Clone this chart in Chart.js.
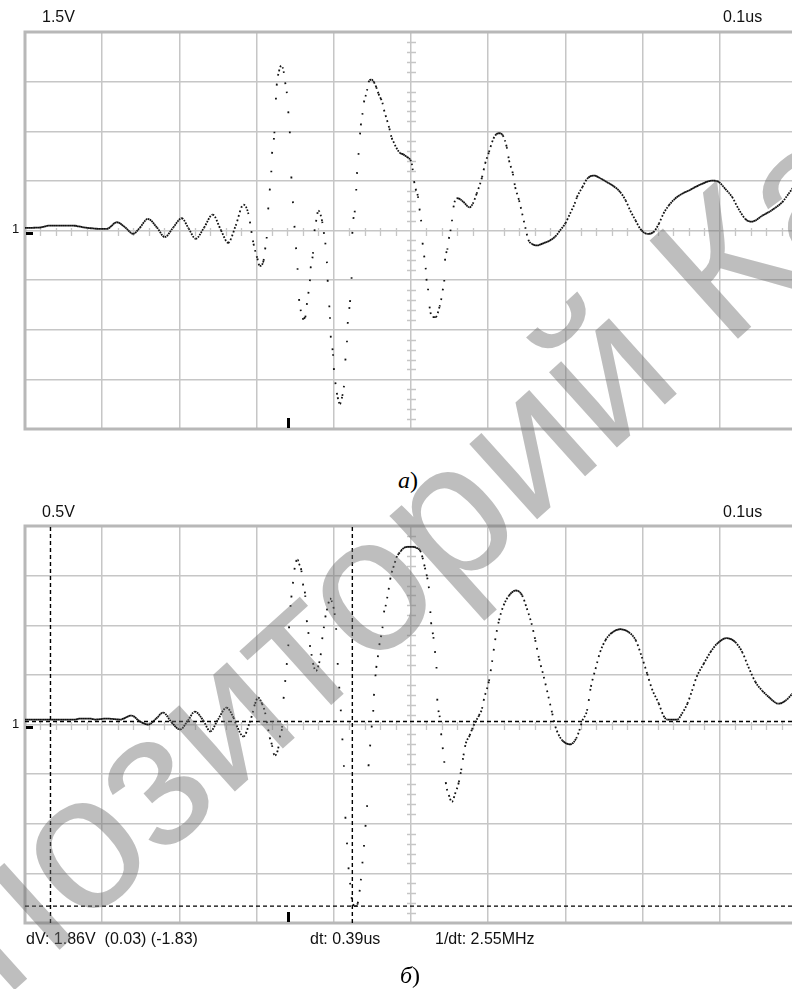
<!DOCTYPE html>
<html>
<head>
<meta charset="utf-8">
<script src="https://cdn.jsdelivr.net/npm/chart.js@4.4.0/dist/chart.umd.min.js"></script>
<style>
html, body { margin: 0; padding: 0; background: #fff; overflow: hidden; }
#wrap { position: relative; width: 792px; height: 989px; overflow: hidden; }
canvas { position: absolute; left: 0; }
.lbl { position: absolute; font-family: "Liberation Sans", Arial, sans-serif; font-size: 16px; line-height: 16px; color: #111; white-space: pre; }
.gnd { position: absolute; font-family: "Liberation Sans", Arial, sans-serif; font-size: 13px; line-height: 13px; color: #111; }
.cap { position: absolute; font-family: "Liberation Serif", "Times New Roman", serif; font-size: 24px; line-height: 24px; color: #000; }
.wm { position: absolute; left: -272px; top: 1030px; font-family: "Liberation Sans", Arial, sans-serif;
      font-size: 192px; line-height: 192px; color: rgba(110,110,110,0.45); white-space: nowrap;
      transform-origin: 0 0; transform: rotate(-42deg); pointer-events: none; }
</style>
</head>
<body>
<div id="wrap">
  <canvas id="scopeA" width="792" height="440" style="top:0px"></canvas>
  <canvas id="scopeB" width="792" height="440" style="top:494px"></canvas>

  <div class="lbl" style="left:42px; top:9px">1.5V</div>
  <div class="lbl" style="left:723px; top:9px">0.1us</div>
  <div class="gnd" style="left:12px; top:222px">1</div>
  <div class="cap" style="left:398px; top:468px"><i>а</i>)</div>

  <div class="lbl" style="left:42px; top:504px">0.5V</div>
  <div class="lbl" style="left:723px; top:504px">0.1us</div>
  <div class="gnd" style="left:12px; top:717px">1</div>
  <div class="lbl" style="left:26px; top:931px">dV: 1.86V  (0.03) (-1.83)</div>
  <div class="lbl" style="left:310px; top:931px">dt: 0.39us</div>
  <div class="lbl" style="left:435px; top:931px">1/dt: 2.55MHz</div>
  <div class="cap" style="left:400px; top:963px"><i>б</i>)</div>

  <div class="wm">Репозиторий КазНУ</div>
</div>

<script>
// scope settings
const timePerDiv = 0.1;      // us
const topVoltsPerDiv = 1.5;
const botVoltsPerDiv = 0.5;
const screenDivsX = 9.935;   // right edge of the screen is cut off
const halfDivsY = 4;

// trace a) : time (us) and voltage (V)
const topT = [0, 0.019, 0.032, 0.061, 0.078, 0.097, 0.106, 0.119, 0.130, 0.140,
  0.149, 0.159, 0.171, 0.181, 0.192, 0.203, 0.212, 0.221, 0.232, 0.243,
  0.254, 0.263, 0.273, 0.283, 0.289, 0.296, 0.301, 0.304, 0.309, 0.311,
  0.313, 0.315, 0.317, 0.319, 0.320, 0.323, 0.325, 0.326, 0.329, 0.332,
  0.335, 0.337, 0.339, 0.341, 0.343, 0.345, 0.347, 0.349, 0.351, 0.353,
  0.355, 0.357, 0.359, 0.363, 0.365, 0.367, 0.369, 0.370, 0.373, 0.375,
  0.377, 0.380, 0.385, 0.387, 0.389, 0.391, 0.392, 0.395, 0.396, 0.399,
  0.400, 0.402, 0.405, 0.408, 0.411, 0.413, 0.415, 0.417, 0.418, 0.421,
  0.423, 0.424, 0.427, 0.429, 0.430, 0.432, 0.435, 0.437, 0.439, 0.441,
  0.443, 0.445, 0.449, 0.452, 0.455, 0.458, 0.461, 0.463, 0.465, 0.467,
  0.469, 0.472, 0.475, 0.478, 0.481, 0.486, 0.490, 0.495, 0.499, 0.501,
  0.502, 0.504, 0.506, 0.509, 0.511, 0.513, 0.515, 0.517, 0.519, 0.520,
  0.522, 0.524, 0.528, 0.532, 0.537, 0.539, 0.541, 0.543, 0.544, 0.547,
  0.549, 0.551, 0.553, 0.555, 0.559, 0.564, 0.568, 0.576, 0.580, 0.585,
  0.592, 0.596, 0.601, 0.605, 0.609, 0.614, 0.619, 0.624, 0.627, 0.632,
  0.635, 0.640, 0.644, 0.648, 0.652, 0.657, 0.663, 0.672, 0.680, 0.687,
  0.693, 0.700, 0.706, 0.712, 0.715, 0.722, 0.728, 0.737, 0.745, 0.754,
  0.763, 0.771, 0.778, 0.784, 0.791, 0.797, 0.806, 0.814, 0.821, 0.827,
  0.834, 0.842, 0.851, 0.860, 0.868, 0.877, 0.890, 0.899, 0.907, 0.916,
  0.924, 0.933, 0.940, 0.946, 0.955, 0.963, 0.972, 0.981, 0.989, 0.997];
const topV = [0.08, 0.09, 0.15, 0.15, 0.09, 0.05, 0.05, 0.25, 0.09, -0.10,
  0.09, 0.35, 0.09, -0.20, 0.09, 0.37, 0.06, -0.25, 0.09, 0.48,
  0.00, -0.37, 0.15, 0.78, 0.54, -0.40, -0.85, -1.07, -0.91, -0.57,
  -0.24, 0.64, 1.21, 1.76, 2.32, 2.94, 3.96, 4.38, 4.81, 4.99,
  4.81, 4.48, 4.20, 3.60, 2.99, 1.63, 0.88, 0.14, -0.51, -1.14,
  -2.07, -2.39, -2.67, -2.62, -2.25, -1.91, -1.53, -1.14, -0.70, -0.02,
  0.27, 0.60, 0.27, -0.05, -0.37, -0.94, -1.49, -2.62, -3.18, -3.74,
  -4.16, -4.59, -5.04, -5.24, -5.00, -4.74, -3.93, -3.38, -2.82, -2.16,
  -1.46, -0.10, 0.55, 1.21, 1.71, 2.29, 3.18, 3.50, 3.87, 4.05,
  4.23, 4.48, 4.56, 4.48, 4.33, 4.13, 3.98, 3.86, 3.65, 3.48,
  3.33, 3.08, 2.80, 2.65, 2.50, 2.34, 2.30, 2.22, 2.14, 2.02,
  1.87, 1.49, 1.26, 1.03, 0.66, 0.32, -0.37, -0.76, -1.13, -1.46,
  -1.76, -2.30, -2.62, -2.62, -2.30, -2.10, -1.81, -1.54, -0.91, -0.58,
  -0.25, -0.02, 0.28, 0.70, 0.98, 0.94, 0.86, 0.70, 0.81, 1.11,
  1.61, 2.02, 2.37, 2.67, 2.87, 2.94, 2.87, 2.52, 2.12, 1.71,
  1.31, 0.91, 0.51, 0.10, -0.28, -0.41, -0.45, -0.38, -0.30, -0.18,
  0.00, 0.22, 0.51, 0.81, 1.01, 1.31, 1.56, 1.66, 1.58, 1.46,
  1.33, 1.16, 0.91, 0.60, 0.30, 0.05, -0.10, -0.05, 0.20, 0.51,
  0.76, 0.96, 1.11, 1.21, 1.31, 1.41, 1.51, 1.46, 1.26, 1.01,
  0.66, 0.35, 0.27, 0.30, 0.45, 0.55, 0.69, 0.86, 1.11, 1.36];

// trace б)
const botT = [0, 0.065, 0.071, 0.084, 0.091, 0.106, 0.123, 0.138, 0.149, 0.160,
  0.170, 0.179, 0.190, 0.201, 0.211, 0.220, 0.231, 0.240, 0.250, 0.261,
  0.270, 0.274, 0.283, 0.291, 0.295, 0.298, 0.302, 0.307, 0.311, 0.315,
  0.317, 0.320, 0.322, 0.324, 0.328, 0.330, 0.333, 0.335, 0.337, 0.339,
  0.341, 0.342, 0.345, 0.347, 0.349, 0.351, 0.353, 0.355, 0.358, 0.360,
  0.363, 0.365, 0.367, 0.369, 0.371, 0.373, 0.377, 0.381, 0.383, 0.385,
  0.387, 0.389, 0.391, 0.393, 0.395, 0.397, 0.401, 0.403, 0.405, 0.407,
  0.409, 0.411, 0.413, 0.415, 0.417, 0.419, 0.421, 0.423, 0.425, 0.428,
  0.431, 0.435, 0.437, 0.439, 0.441, 0.443, 0.445, 0.447, 0.449, 0.451,
  0.452, 0.455, 0.457, 0.459, 0.461, 0.463, 0.465, 0.467, 0.469, 0.471,
  0.473, 0.475, 0.477, 0.479, 0.481, 0.484, 0.487, 0.491, 0.499, 0.507,
  0.512, 0.515, 0.518, 0.521, 0.523, 0.526, 0.529, 0.531, 0.533, 0.534,
  0.537, 0.539, 0.541, 0.543, 0.545, 0.549, 0.553, 0.557, 0.562, 0.565,
  0.568, 0.571, 0.576, 0.579, 0.583, 0.588, 0.592, 0.594, 0.601, 0.605,
  0.609, 0.614, 0.620, 0.627, 0.636, 0.644, 0.650, 0.656, 0.661, 0.666,
  0.672, 0.678, 0.683, 0.687, 0.691, 0.696, 0.706, 0.714, 0.718, 0.722,
  0.728, 0.733, 0.739, 0.745, 0.752, 0.758, 0.771, 0.782, 0.791, 0.799,
  0.806, 0.812, 0.821, 0.827, 0.832, 0.845, 0.851, 0.858, 0.864, 0.870,
  0.879, 0.888, 0.896, 0.909, 0.920, 0.929, 0.937, 0.946, 0.955, 0.963,
  0.976, 0.985, 0.994];
const botV = [0.05, 0.05, 0.06, 0.06, 0.05, 0.06, 0.05, 0.09, 0.03, 0.00,
  0.06, 0.12, 0.02, -0.05, 0.04, 0.13, 0.04, -0.07, 0.05, 0.17,
  0.07, -0.01, -0.12, 0.02, 0.12, 0.21, 0.27, 0.21, 0.12, -0.05,
  -0.13, -0.21, -0.29, -0.31, -0.24, -0.13, -0.03, 0.26, 0.43, 0.60,
  0.79, 0.97, 1.28, 1.42, 1.56, 1.64, 1.66, 1.62, 1.55, 1.42,
  1.30, 1.05, 0.93, 0.80, 0.71, 0.62, 0.54, 0.62, 0.70, 0.86,
  0.97, 1.08, 1.15, 1.22, 1.27, 1.25, 1.12, 0.97, 0.62, 0.38,
  0.15, -0.13, -0.41, -0.93, -1.19, -1.44, -1.59, -1.74, -1.81, -1.83,
  -1.80, -1.57, -1.40, -1.23, -1.03, -0.83, -0.42, -0.22, -0.03, 0.13,
  0.29, 0.57, 0.68, 0.80, 0.88, 0.97, 1.13, 1.19, 1.27, 1.36,
  1.46, 1.53, 1.58, 1.63, 1.68, 1.72, 1.75, 1.78, 1.79, 1.78,
  1.75, 1.68, 1.58, 1.48, 1.39, 1.03, 0.88, 0.74, 0.58, 0.26,
  0.09, -0.09, -0.23, -0.37, -0.58, -0.71, -0.78, -0.70, -0.58, -0.46,
  -0.31, -0.19, -0.11, -0.05, 0.02, 0.09, 0.16, 0.24, 0.44, 0.63,
  0.85, 1.05, 1.20, 1.30, 1.35, 1.30, 1.17, 1.02, 0.85, 0.66,
  0.48, 0.28, 0.11, -0.02, -0.10, -0.16, -0.20, -0.14, -0.06, 0.04,
  0.14, 0.38, 0.56, 0.73, 0.85, 0.91, 0.96, 0.93, 0.85, 0.68,
  0.51, 0.36, 0.21, 0.09, 0.05, 0.05, 0.11, 0.21, 0.34, 0.48,
  0.61, 0.73, 0.81, 0.87, 0.83, 0.73, 0.58, 0.43, 0.34, 0.28,
  0.21, 0.24, 0.31];

// cursors on screen б)
const cursorT = [0.033, 0.424];
const cursorV = [0.03, -1.83];
const triggerT = 0.341;

const GRID = '#c6c6c6';

// the scope samples at a fixed rate, so steep parts of the trace break up into dots
function dotDash(ctx) {
  const dx = Math.abs(ctx.p1.x - ctx.p0.x);
  const dy = Math.abs(ctx.p1.y - ctx.p0.y);
  const slope = dx > 0.05 ? dy / dx : 40;
  const step = 1.6 * Math.sqrt(1 + slope * slope);
  return [1.7, Math.max(0.1, step - 1.7)];
}

function onlyWhole(step) {
  return axis => {
    axis.ticks = axis.ticks.filter(tk => Math.abs(tk.value / step - Math.round(tk.value / step)) < 1e-6);
  };
}

const scopeDecor = {
  id: 'scopeDecor',
  beforeDatasetsDraw(chart, args, o) {
    const { ctx, chartArea: a, scales: { x, y } } = chart;
    const x0 = Math.round(x.getPixelForValue(timePerDiv * 5));
    const y0 = Math.round(y.getPixelForValue(0));
    ctx.save();
    // fine ticks on the centre lines, 5 per division
    ctx.strokeStyle = GRID;
    ctx.lineWidth = 1.3;
    ctx.beginPath();
    for (let i = 1; i < screenDivsX * 5; i++) {
      if (i % 5 === 0) continue;
      const px = Math.round(x.getPixelForValue(i * timePerDiv / 5)) + 0.5;
      ctx.moveTo(px, y0 - 3);
      ctx.lineTo(px, y0 + 5);
    }
    for (let i = 1; i < halfDivsY * 10; i++) {
      if (i % 5 === 0) continue;
      const py = Math.round(y.getPixelForValue(y.min + i * o.vPerDiv / 5)) + 0.5;
      ctx.moveTo(x0 - 4, py);
      ctx.lineTo(x0 + 5, py);
    }
    ctx.stroke();
    // screen frame
    ctx.strokeStyle = '#b8b8b8';
    ctx.lineWidth = 3;
    ctx.beginPath();
    ctx.moveTo(a.right + 2, a.top);
    ctx.lineTo(a.left, a.top);
    ctx.lineTo(a.left, a.bottom);
    ctx.lineTo(a.right + 2, a.bottom);
    ctx.stroke();
    ctx.restore();
  },
  afterDatasetsDraw(chart, args, o) {
    const { ctx, chartArea: a, scales: { x, y } } = chart;
    const y0 = Math.round(y.getPixelForValue(0));
    ctx.save();
    ctx.fillStyle = '#000';
    ctx.fillRect(a.left + 1, y0 + 1, 7, 3);
    const tx = Math.round(x.getPixelForValue(o.trigger));
    ctx.fillRect(tx - 1, a.bottom - 11, 3, 10);
    ctx.restore();
  }
};
Chart.register(scopeDecor);

function scope(id, t, v, vPerDiv, extra) {
  const trace = {
    data: t.map((x, i) => ({ x: x, y: v[i] })),
    borderColor: '#111',
    borderWidth: 1.8,
    pointRadius: 0,
    cubicInterpolationMode: 'monotone',
    segment: { borderDash: dotDash }
  };
  const gridOpts = { color: GRID, lineWidth: 1.5, drawTicks: false };
  return new Chart(document.getElementById(id), {
    type: 'line',
    data: { datasets: [trace].concat(extra) },
    options: {
      responsive: false,
      animation: false,
      devicePixelRatio: 1,
      layout: { padding: { left: 25, top: 32, right: 0, bottom: 11 } },
      plugins: {
        legend: { display: false },
        tooltip: { enabled: false },
        scopeDecor: { vPerDiv: vPerDiv, trigger: triggerT }
      },
      scales: {
        x: {
          type: 'linear', min: 0, max: screenDivsX * timePerDiv,
          ticks: { display: false, stepSize: timePerDiv },
          grid: gridOpts, border: { display: false },
          afterBuildTicks: onlyWhole(timePerDiv)
        },
        y: {
          type: 'linear', min: -halfDivsY * vPerDiv, max: halfDivsY * vPerDiv,
          ticks: { display: false, stepSize: vPerDiv },
          grid: gridOpts, border: { display: false },
          afterBuildTicks: onlyWhole(vPerDiv)
        }
      }
    }
  });
}

const dashed = { borderColor: '#000', borderWidth: 1.4, borderDash: [4, 3], pointRadius: 0, tension: 0 };
const cursorLines = cursorT.map(c => Object.assign({
  data: [{ x: c, y: -halfDivsY * botVoltsPerDiv }, { x: c, y: halfDivsY * botVoltsPerDiv }]
}, dashed)).concat(cursorV.map(c => Object.assign({
  data: [{ x: 0, y: c }, { x: screenDivsX * timePerDiv, y: c }]
}, dashed)));

scope('scopeA', topT, topV, topVoltsPerDiv, []);
scope('scopeB', botT, botV, botVoltsPerDiv, cursorLines);
</script>
</body>
</html>
